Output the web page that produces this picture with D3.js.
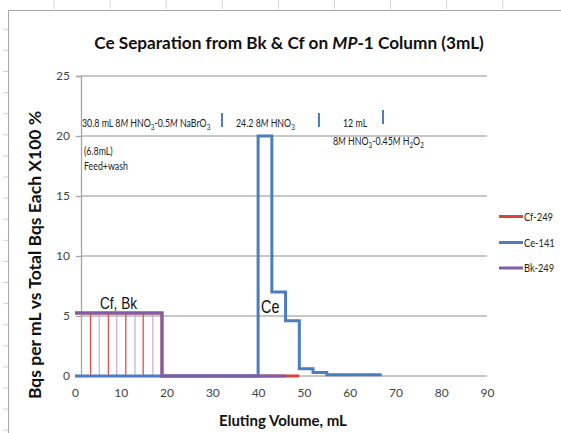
<!DOCTYPE html>
<html>
<head>
<meta charset="utf-8">
<script src="https://cdn.jsdelivr.net/npm/d3@7"></script>
<style>
  html, body { margin: 0; padding: 0; background: #fff; }
  svg { display: block; }
  text { font-family: Lato, "Open Sans", sans-serif; }
</style>
</head>
<body>
<svg id="chart" width="561" height="433"></svg>
<script>
// ---- data ----
const xTicks = [0, 10, 20, 30, 40, 50, 60, 70, 80, 90];
const yTicks = [0, 5, 10, 15, 20, 25];

// Ce-141 elution profile (step outline of collected fractions)
const ceX = [0, 40, 40, 43, 43, 46, 46, 49, 49, 52, 52, 55, 55, 67];
const ceY = [0, 0, 20, 20, 7, 7, 4.6, 4.6, 0.6, 0.6, 0.3, 0.3, 0.1, 0.1];

// Cf-249 profile and fraction drop lines
const cfX = [0, 19, 19, 49];
const cfY = [5.26, 5.26, 0, 0];
const cfDrops = [3.4, 7.3, 11.1, 14.9];

// Bk-249 profile and fraction drop lines
const bkX = [0, 19, 19, 46];
const bkY = [5.26, 5.26, 0, 0];
const bkDrops = [5.3, 9.1, 13.1, 17.0];

const seriesNames = ["Cf-249", "Ce-141", "Bk-249"];
const seriesColors = ["#d4453f", "#4a7ebf", "#7e5fa6"];

// ---- layout ----
const svg = d3.select("#chart");
const x = d3.scaleLinear().domain([0, 90]).range([75, 487]);
const y = d3.scaleLinear().domain([0, 25]).range([376, 76]);
const axisX = x(0) + 6;

// worksheet cell edges peeking around the chart object
const bg = svg.append("g").attr("stroke", "#d4d4d4").attr("stroke-width", 1);
for (let i = 0; i < 9; i++) {
  const cx = 54 + i * 56.1;
  bg.append("line").attr("x1", cx).attr("x2", cx).attr("y1", 0).attr("y2", 9);
}
for (let i = 0; i < 20; i++) {
  const cy = 29.3 + i * 21.1;
  bg.append("line").attr("x1", 3).attr("x2", 8).attr("y1", cy).attr("y2", cy);
}
// chart object border
svg.append("path")
  .attr("d", "M8.5,433 V10.5 H561")
  .attr("fill", "none").attr("stroke", "#a6a6a6").attr("stroke-width", 1);

// gridlines
svg.append("g").selectAll("line").data(yTicks).join("line")
  .attr("x1", axisX).attr("x2", x(90))
  .attr("y1", d => y(d)).attr("y2", d => y(d))
  .attr("stroke", "#b4b4b4").attr("stroke-width", 1.3);

// y axis
const yAxis = svg.append("g").attr("transform", `translate(${axisX},0)`)
  .call(d3.axisLeft(y).tickValues(yTicks).tickSize(5).tickPadding(6));
yAxis.select(".domain").attr("stroke", "#a6a6a6").attr("stroke-width", 1.3);
yAxis.selectAll(".tick line").attr("stroke", "#a6a6a6").attr("stroke-width", 1.3);
yAxis.selectAll(".tick text").attr("fill", "#444").style("font-size", "12px")
  .style("font-family", "Lato, sans-serif");

// x axis (labels only)
const xAxis = svg.append("g").attr("transform", `translate(0,${y(0)})`)
  .call(d3.axisBottom(x).tickValues(xTicks).tickSize(0).tickPadding(12));
xAxis.select(".domain").remove();
xAxis.selectAll(".tick text").attr("fill", "#444").style("font-size", "12px")
  .style("font-family", "Lato, sans-serif");

// ---- series ----
const line = d3.line().x(d => x(d[0])).y(d => y(d[1]));
const pts = (xs, ys) => xs.map((v, i) => [v, ys[i]]);

// thin drop lines under the plateaus
svg.append("g").selectAll("line").data(cfDrops).join("line")
  .attr("x1", d => x(d)).attr("x2", d => x(d))
  .attr("y1", y(0)).attr("y2", y(cfY[0]))
  .attr("stroke", "#f0484a").attr("stroke-width", 1.3);
svg.append("g").selectAll("line").data(bkDrops).join("line")
  .attr("x1", d => x(d)).attr("x2", d => x(d))
  .attr("y1", y(0)).attr("y2", y(bkY[0]))
  .attr("stroke", "#c7b2e2").attr("stroke-width", 1.3);

const seriesData = [pts(cfX, cfY), pts(ceX, ceY), pts(bkX, bkY)];
svg.append("g").selectAll("path").data(seriesData).join("path")
  .attr("d", line)
  .attr("fill", "none")
  .attr("stroke", (d, i) => seriesColors[i])
  .attr("stroke-width", 3)
  .attr("stroke-linejoin", "miter");

// ---- titles ----
svg.append("text")
  .attr("x", 289).attr("y", 49).attr("text-anchor", "middle")
  .style("font-size", "17.2px").style("font-weight", "bold").attr("fill", "#111")
  .call(t => {
    t.append("tspan").text("Ce Separation from Bk & Cf on ");
    t.append("tspan").style("font-style", "italic").text("MP");
    t.append("tspan").text("-1 Column (3mL)");
  });

svg.append("text")
  .attr("transform", "translate(41,255) rotate(-90)")
  .attr("text-anchor", "middle")
  .style("font-size", "17.5px").style("font-weight", "bold").attr("fill", "#111")
  .text("Bqs per mL vs Total Bqs Each X100 %");

svg.append("text")
  .attr("x", 283).attr("y", 426).attr("text-anchor", "middle")
  .style("font-size", "15px").style("font-weight", "bold").attr("fill", "#111")
  .text("Eluting Volume, mL");

// ---- eluent annotations ----
function rich(sel, parts) {
  parts.forEach(p => {
    const ts = sel.append("tspan").text(p.t);
    if (p.i) ts.style("font-style", "italic");
    if (p.s) ts.attr("dy", 2.5).style("font-size", "7.5px");
    if (p.after) ts.attr("dy", p.after);
  });
}
// narrow body text, squeezed horizontally
const note = (px, py) => svg.append("text")
  .attr("transform", `translate(${px},${py}) scale(0.84,1)`)
  .style("font-size", "10.5px").attr("fill", "#222");

rich(note(82, 127), [
  {t: "30.8 mL 8"}, {t: "M", i: 1}, {t: " HNO"}, {t: "3", s: 1},
  {t: "-0.5", after: -2.5}, {t: "M", i: 1}, {t: " NaBrO"}, {t: "3", s: 1}
]);
rich(note(236, 127), [
  {t: "24.2 8"}, {t: "M", i: 1}, {t: " HNO"}, {t: "3", s: 1}
]);
note(343, 127).text("12 mL");
rich(note(333, 145), [
  {t: "8"}, {t: "M", i: 1}, {t: " HNO"}, {t: "3", s: 1},
  {t: "-0.45", after: -2.5}, {t: "M", i: 1}, {t: " H"}, {t: "2", s: 1},
  {t: "O", after: -2.5}, {t: "2", s: 1}
]);
note(84, 155).text("(6.8mL)");
note(84, 170).text("Feed+wash");

// section separators
const seps = [[222, 113, 127], [319, 113, 127], [383, 110, 124]];
svg.append("g").selectAll("line").data(seps).join("line")
  .attr("x1", d => d[0]).attr("x2", d => d[0])
  .attr("y1", d => d[1]).attr("y2", d => d[2])
  .attr("stroke", "#4a7ebf").attr("stroke-width", 2);

// peak labels
const peakFont = "'Liberation Sans', Arial, sans-serif";
svg.append("text").attr("transform", "translate(100,309) scale(0.8,1)")
  .style("font-family", peakFont).style("font-size", "17px").attr("fill", "#111")
  .text("Cf, Bk");
svg.append("text").attr("transform", "translate(261,313) scale(0.8,1)")
  .style("font-family", peakFont).style("font-size", "18px").attr("fill", "#111")
  .text("Ce");

// ---- legend ----
const legend = svg.append("g");
const legY = [216.5, 242.5, 268];
seriesNames.forEach((name, i) => {
  legend.append("line")
    .attr("x1", 499).attr("x2", 523).attr("y1", legY[i]).attr("y2", legY[i])
    .attr("stroke", seriesColors[i]).attr("stroke-width", 3);
  legend.append("text")
    .attr("transform", `translate(524,${legY[i] + 4}) scale(0.85,1)`)
    .style("font-size", "11px").attr("fill", "#222")
    .text(name);
});
</script>
</body>
</html>
